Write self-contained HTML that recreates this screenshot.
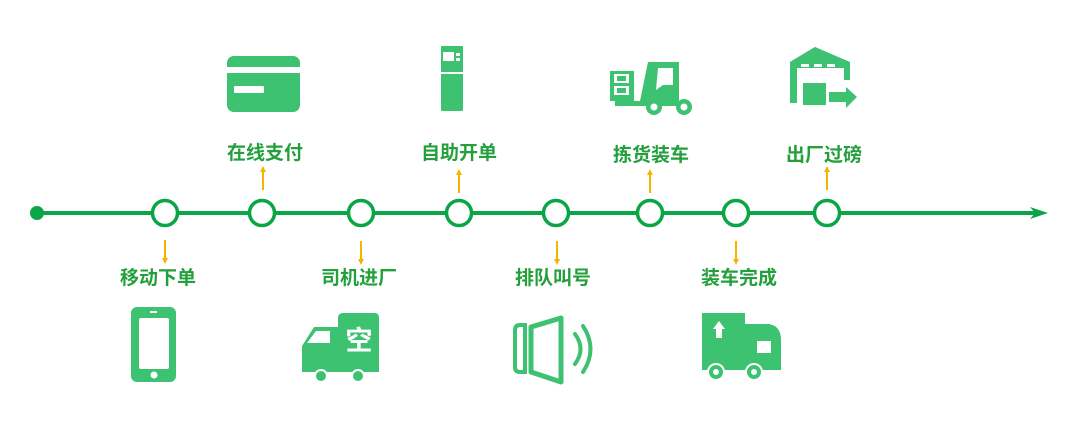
<!DOCTYPE html>
<html><head><meta charset="utf-8"><style>
html,body{margin:0;padding:0;background:#fff;}
svg{display:block}
text{font-family:"Liberation Sans","Noto Sans CJK SC",sans-serif;font-weight:bold;font-size:19px;fill:#23a03c;text-anchor:middle}
</style></head><body>
<svg width="1080" height="430" viewBox="0 0 1080 430">
<defs><g id="up"><line x1="0" y1="0" x2="0" y2="-20" stroke="#f5b400" stroke-width="2"/><path d="M-3,-18 L0,-24 L3,-18Z" fill="#f5b400"/></g>
<g id="dn"><line x1="0" y1="0" x2="0" y2="20" stroke="#f5b400" stroke-width="2"/><path d="M-3,18 L0,24 L3,18Z" fill="#f5b400"/></g></defs>
<line x1="37" y1="213" x2="1040" y2="213" stroke="#0aa546" stroke-width="4"/>
<path d="M1030,207 L1048,213 L1030,219 L1035,213Z" fill="#0aa546"/>
<circle cx="37" cy="213" r="7" fill="#0aa546"/>
<g fill="#fff" stroke="#0aa546" stroke-width="3.5">
<circle cx="165" cy="213" r="12.5"/><circle cx="262" cy="213" r="12.5"/><circle cx="361" cy="213" r="12.5"/><circle cx="459" cy="213" r="12.5"/><circle cx="556" cy="213" r="12.5"/><circle cx="650" cy="213" r="12.5"/><circle cx="736" cy="213" r="12.5"/><circle cx="827" cy="213" r="12.5"/>
</g>
<use href="#dn" x="165" y="240"/><use href="#up" x="263" y="190"/><use href="#dn" x="361" y="241"/><use href="#up" x="459" y="193"/><use href="#dn" x="557" y="241"/><use href="#up" x="650" y="193"/><use href="#dn" x="736" y="241"/><use href="#up" x="827" y="190"/>
<text x="158" y="284">移动下单</text><text x="265" y="159">在线支付</text><text x="359" y="284">司机进厂</text><text x="459" y="159">自助开单</text><text x="553" y="284">排队叫号</text><text x="651" y="161">拣货装车</text><text x="739" y="284">装车完成</text><text x="824" y="161">出厂过磅</text>
<g fill="#3cc271">
<!-- card -->
<rect x="227" y="56" width="73" height="56" rx="7"/>
<rect x="227" y="67" width="73" height="6" fill="#fff"/>
<rect x="234" y="86" width="30" height="7" rx="1" fill="#fff"/>
<!-- ATM -->
<rect x="441" y="46" width="22" height="65" rx="1"/>
<rect x="443" y="52" width="11" height="9" fill="#fff"/>
<rect x="456" y="53" width="4" height="3" fill="#fff"/><rect x="456" y="58" width="4" height="3" fill="#fff"/>
<rect x="441" y="72" width="22" height="2" fill="#fff"/>
<!-- forklift -->
<rect x="610" y="71" width="24" height="30"/>
<rect x="614" y="74" width="15" height="9" fill="#fff"/><rect x="614" y="86" width="15" height="9" fill="#fff"/>
<rect x="617" y="76" width="9" height="5"/><rect x="617" y="88" width="9" height="5"/>
<path d="M648,62 L679,62 L679,106 L615,106 L615,101 L640,101 Z"/>
<path d="M658,68 L673,68 L673,85 L663,85 L656,90 Z" fill="#fff"/>
<circle cx="654" cy="107" r="8"/><circle cx="684" cy="107" r="8"/>
<circle cx="654" cy="107" r="3.5" fill="#fff"/><circle cx="684" cy="107" r="3.5" fill="#fff"/>
<!-- warehouse -->
<path d="M790,62 L815,47 L850,62 L850,80 L844,80 L844,68 L797,68 L797,103 L790,103 Z"/>
<path d="M790,62 L815,47 L848,62 Z"/>
<rect x="801" y="64" width="8" height="3" fill="#fff"/><rect x="814" y="64" width="8" height="3" fill="#fff"/><rect x="827" y="64" width="8" height="3" fill="#fff"/>
<rect x="803" y="83" width="23" height="22"/>
<path d="M829,92 L846,92 L846,87 L857,97 L846,108 L846,102 L829,102Z"/>
<!-- phone -->
<rect x="131" y="307" width="45" height="75" rx="6"/>
<rect x="139" y="318" width="30" height="51" rx="2" fill="#fff"/>
<rect x="150" y="311" width="7" height="2" fill="#fff"/>
<circle cx="154" cy="375" r="3.5" fill="#fff"/>
<!-- truck 空 -->
<path d="M338,318 Q338,313 343,313 L375,313 Q379,313 379,318 L379,372 L302,372 L302,346 L314,327 L338,327 Z"/>
<path d="M307,343 L316,331 L330,331 L330,343 Z" fill="#fff"/>
<circle cx="321" cy="376" r="7" fill="#fff"/><circle cx="321" cy="376" r="5"/>
<circle cx="358" cy="376" r="7" fill="#fff"/><circle cx="358" cy="376" r="5"/>
<text x="359" y="350" style="fill:#fff;font-size:27px">空</text>
<!-- speaker -->
<path d="M515,330 Q515,325 520,325 L525,325 L525,372 L520,372 Q515,372 515,367Z" fill="none" stroke="#3cc271" stroke-width="4"/>
<path d="M531,327 L561,318 L561,382 L531,372 Z" fill="none" stroke="#3cc271" stroke-width="5" stroke-linejoin="round"/>
<path d="M575,334 Q586,349 575,364" fill="none" stroke="#3cc271" stroke-width="4" stroke-linecap="round"/>
<path d="M583,326 Q598,349 583,372" fill="none" stroke="#3cc271" stroke-width="4" stroke-linecap="round"/>
<!-- truck arrow -->
<path d="M702,313 L745,313 L745,324 L769,324 Q781,326 781,340 L781,370 L702,370 Z"/>
<rect x="757" y="341" width="14" height="12" fill="#fff"/>
<path d="M716,338 L716,329 L713,329 L719,321 L725,329 L722,329 L722,338 Z" fill="#fff"/>
<circle cx="716" cy="372" r="9" fill="#fff"/><circle cx="716" cy="372" r="7"/>
<circle cx="754" cy="372" r="9" fill="#fff"/><circle cx="754" cy="372" r="7"/>
<circle cx="716" cy="372" r="3" fill="#fff"/><circle cx="754" cy="372" r="3" fill="#fff"/>
</g>
</svg>
</body></html>
